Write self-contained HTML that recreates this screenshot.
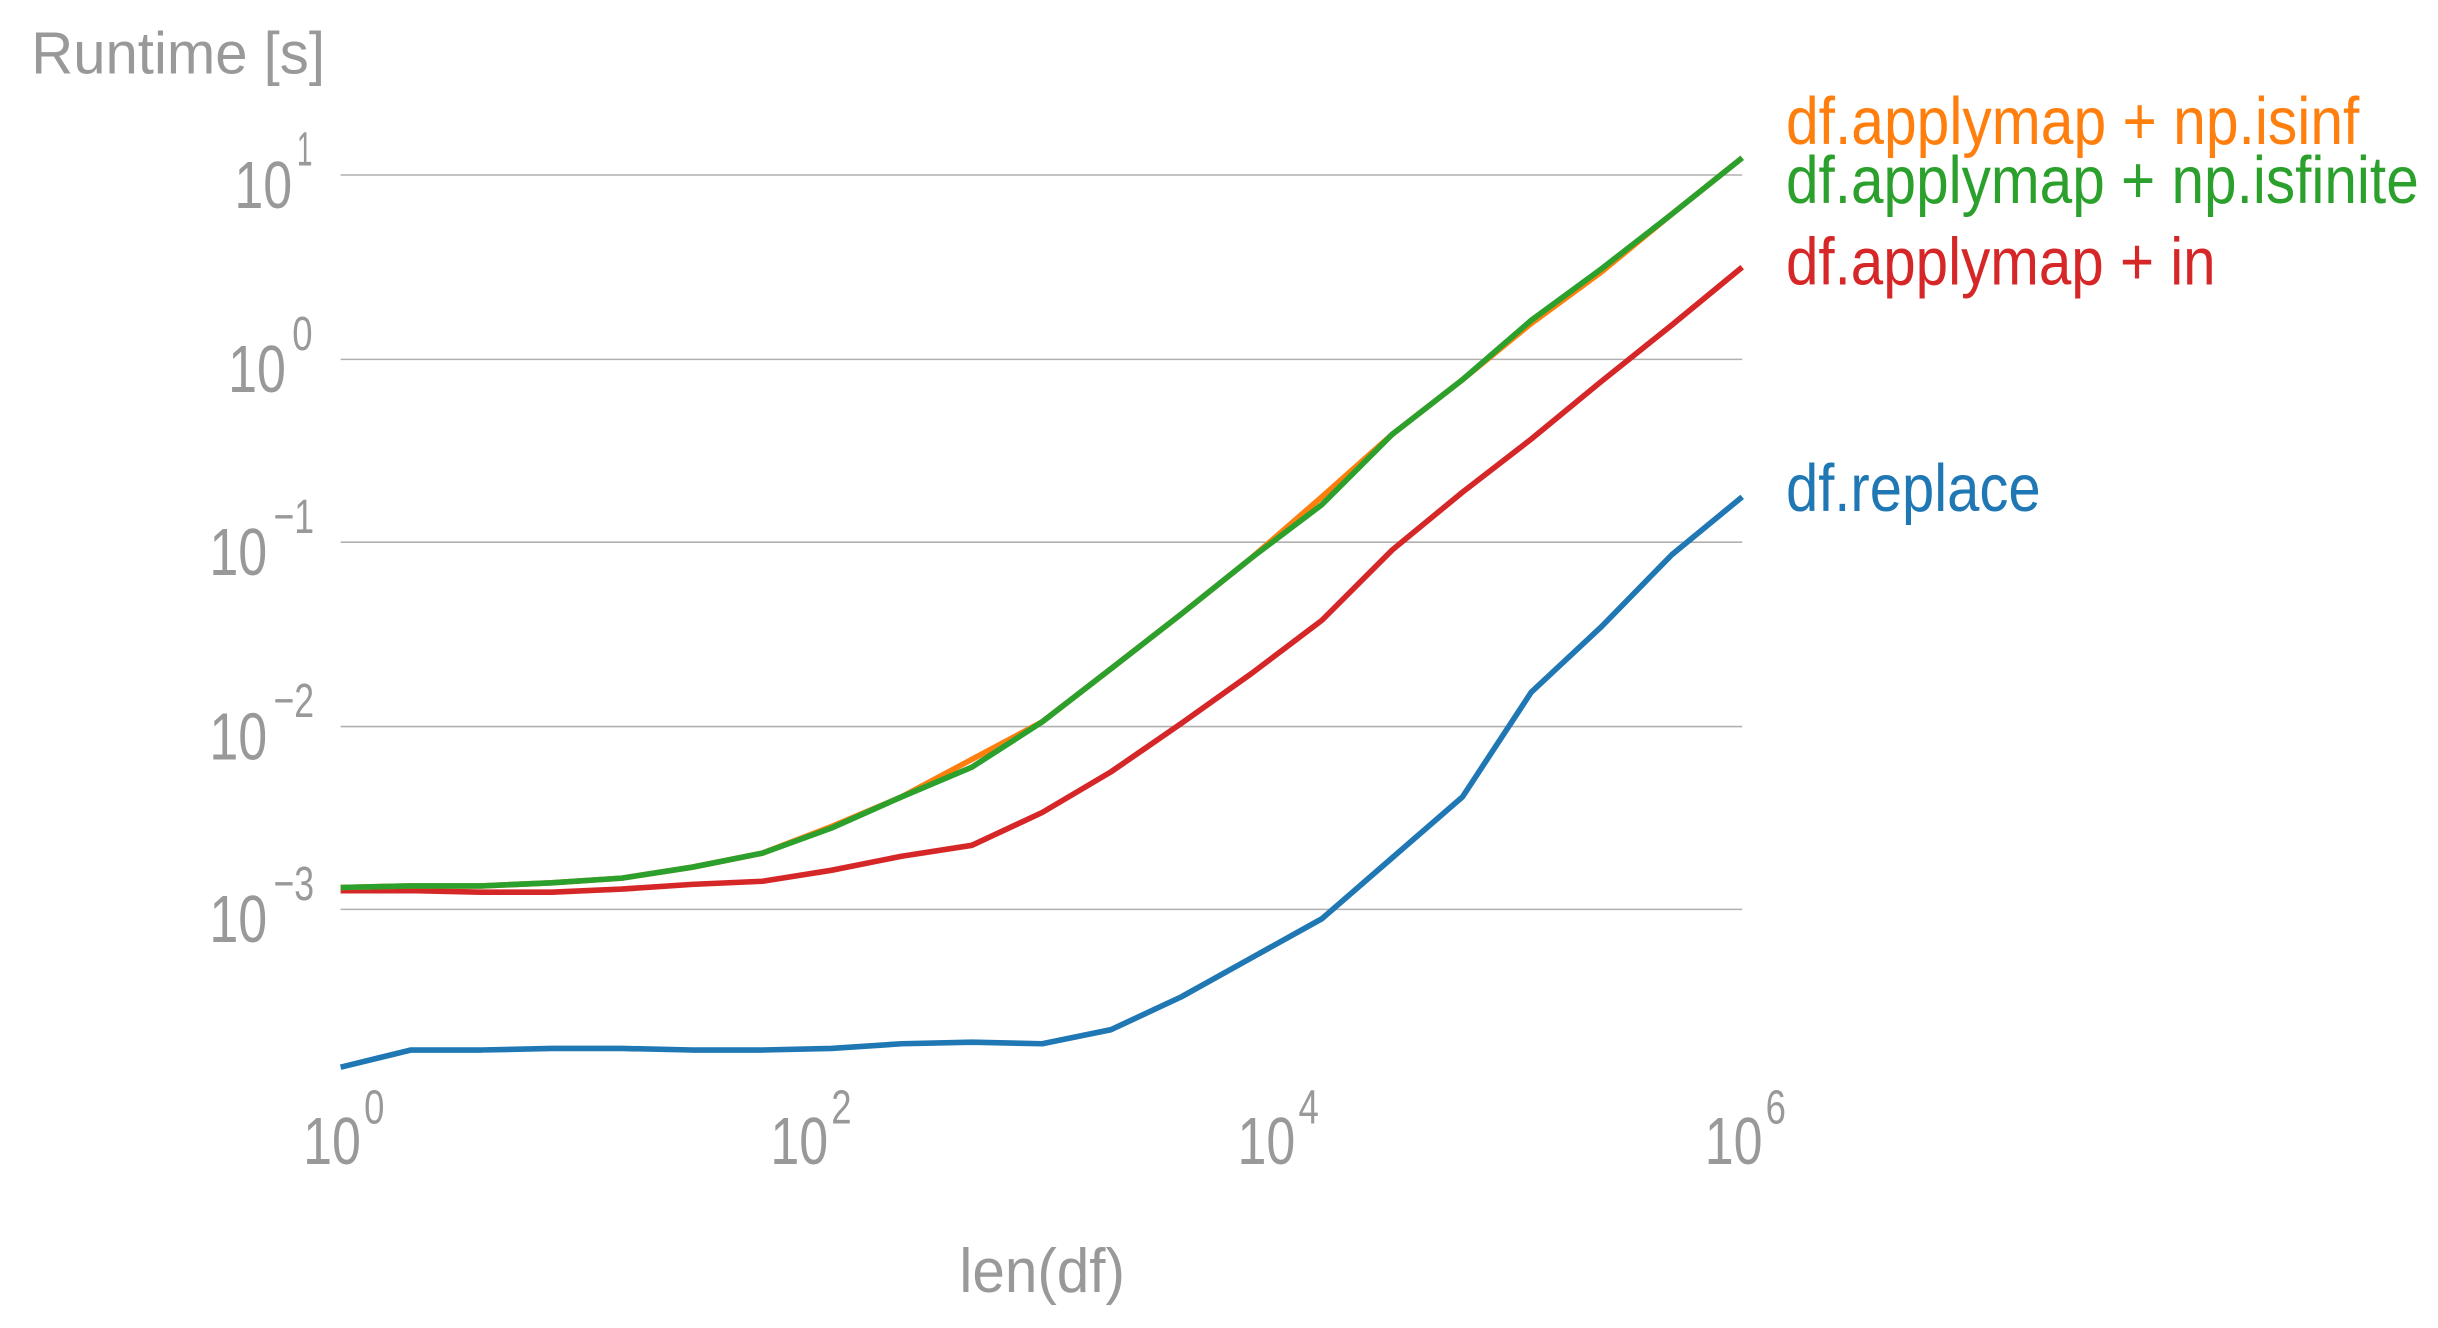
<!DOCTYPE html>
<html><head><meta charset="utf-8"><style>
html,body{margin:0;padding:0;background:#fff;}
svg{display:block;}
text{font-family:"Liberation Sans",sans-serif;}
</style></head><body>
<svg width="2438" height="1328" viewBox="0 0 1560.32 849.92" xmlns="http://www.w3.org/2000/svg">
<g stroke="#b0b0b0" stroke-width="1">
<line x1="218" y1="112" x2="1115" y2="112"/>
<line x1="218" y1="230" x2="1115" y2="230"/>
<line x1="218" y1="347" x2="1115" y2="347"/>
<line x1="218" y1="465" x2="1115" y2="465"/>
<line x1="218" y1="582" x2="1115" y2="582"/>
</g>
<g fill="#999" font-size="43">
<text x="20" y="47" font-size="38" textLength="188" lengthAdjust="spacingAndGlyphs">Runtime [s]</text>
<text x="150" y="133" textLength="37" lengthAdjust="spacingAndGlyphs">10</text><text x="190" y="106" font-size="31" textLength="10" lengthAdjust="spacingAndGlyphs">1</text>
<text x="146" y="251" textLength="37" lengthAdjust="spacingAndGlyphs">10</text><text x="187" y="224" font-size="31" textLength="13" lengthAdjust="spacingAndGlyphs">0</text>
<text x="134" y="368" textLength="37" lengthAdjust="spacingAndGlyphs">10</text><text x="175" y="341" font-size="31" textLength="26" lengthAdjust="spacingAndGlyphs">−1</text>
<text x="134" y="486" textLength="37" lengthAdjust="spacingAndGlyphs">10</text><text x="175" y="459" font-size="31" textLength="26" lengthAdjust="spacingAndGlyphs">−2</text>
<text x="134" y="603" textLength="37" lengthAdjust="spacingAndGlyphs">10</text><text x="175" y="576" font-size="31" textLength="26" lengthAdjust="spacingAndGlyphs">−3</text>
<text x="194" y="745" textLength="37" lengthAdjust="spacingAndGlyphs">10</text><text x="233" y="719" font-size="31" textLength="13" lengthAdjust="spacingAndGlyphs">0</text>
<text x="493" y="745" textLength="37" lengthAdjust="spacingAndGlyphs">10</text><text x="532" y="719" font-size="31" textLength="13" lengthAdjust="spacingAndGlyphs">2</text>
<text x="792" y="745" textLength="37" lengthAdjust="spacingAndGlyphs">10</text><text x="831" y="719" font-size="31" textLength="13" lengthAdjust="spacingAndGlyphs">4</text>
<text x="1091" y="745" textLength="37" lengthAdjust="spacingAndGlyphs">10</text><text x="1130" y="719" font-size="31" textLength="13" lengthAdjust="spacingAndGlyphs">6</text>
<text x="667" y="827" font-size="40" text-anchor="middle" textLength="106" lengthAdjust="spacingAndGlyphs">len(df)</text>
</g>
<g fill="none" stroke-width="3.6" stroke-linejoin="round">
<polyline stroke="#1f77b4" points="218,683 263,672 308,672 353,671 398,671 443,672 488,672 532,671 577,668 622,667 667,668 711,659 756,638 801,613 846,588 891,549 936,510 980,443 1025,401 1070,355 1115,318"/>
<polyline stroke="#d62728" points="218,570 263,570 308,571 353,571 398,569 443,566 488,564 532,557 577,548 622,541 667,520 711,494 756,463 801,431 846,397 891,352 936,315 980,281 1025,244 1070,208 1115,171"/>
<polyline stroke="#ff7f0e" points="218,568 263,567 308,567 353,565 398,562 443,555 488,546 532,529 577,510 622,486 667,462 711,428 756,393 801,357 846,318 891,278 936,243 980,207 1025,174 1070,137 1115,101"/>
<polyline stroke="#2ca02c" points="218,568 263,567 308,567 353,565 398,562 443,555 488,546 532,530 577,510 622,491 667,462 711,428 756,393 801,357 846,323 891,278 936,243 980,205 1025,172 1070,137 1115,101"/>
</g>
<g font-size="43">
<text x="1143" y="92" fill="#ff7f0e" textLength="367" lengthAdjust="spacingAndGlyphs">df.applymap + np.isinf</text>
<text x="1143" y="130" fill="#2ca02c" textLength="405" lengthAdjust="spacingAndGlyphs">df.applymap + np.isfinite</text>
<text x="1143" y="182" fill="#d62728" textLength="275" lengthAdjust="spacingAndGlyphs">df.applymap + in</text>
<text x="1143" y="327" fill="#1f77b4" textLength="163" lengthAdjust="spacingAndGlyphs">df.replace</text>
</g>
</svg>
</body></html>
